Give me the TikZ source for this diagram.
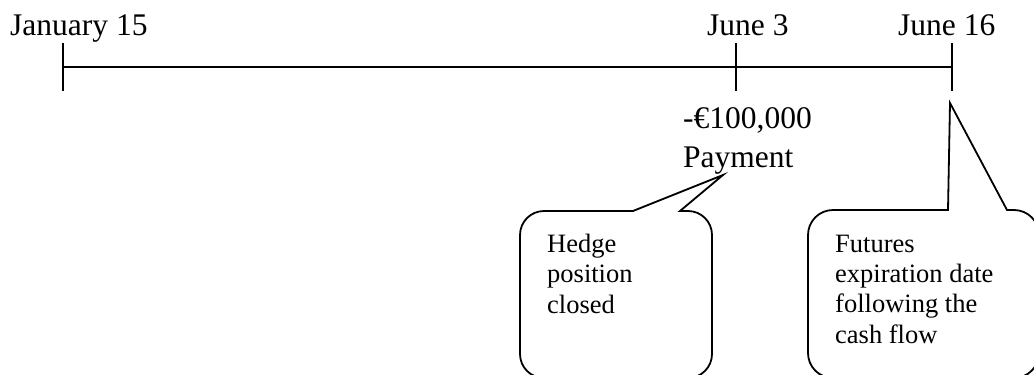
\documentclass[tikz,border=0pt]{standalone}
\usepackage{fontspec}
\setmainfont{Liberation Serif}
\begin{document}
\begin{tikzpicture}[x=1pt,y=1pt,
  axis/.style={line width=1.8pt},
  balloon/.style={line width=1.8pt, line join=miter},
  datelabel/.style={anchor=base west, inner sep=0pt, font=\fontsize{31.5}{36}\selectfont},
  notetext/.style={anchor=base west, inner sep=0pt, align=left, font=\fontsize{26.5}{30.3}\selectfont}]
\useasboundingbox (0,0) rectangle (1034,-375);
\clip (0,0) rectangle (1034,-375);

% time line and its ticks
\coordinate (jan) at (63,-67);
\coordinate (jun3) at (736,-67);
\coordinate (jun16) at (952,-67);
\draw[axis] (jan) -- (jun16);
\foreach \t in {jan,jun3,jun16}
  \draw[axis] ([yshift=24pt]\t) -- ([yshift=-24pt]\t);

% dates
\node[datelabel] (ljan) at (10,-35) {January 15};
\node[datelabel] (ljun3) at (707,-35) {June 3};
\node[datelabel] (ljun16) at (898,-35) {June 16};

% cash flow on June 3 (multi-line nodes sit on the baseline of their last line)
\node[datelabel, align=left, font=\fontsize{31.5}{39}\selectfont] (pay) at (683,-167) {-€100,000\\Payment};

% balloon: hedge closed
\coordinate (tipA) at (723,-175);
\draw[balloon] (633,-211) -- (tipA) -- (680,-211) -- (688,-211)
  arc[start angle=90, end angle=0, radius=24] -- (712,-354)
  arc[start angle=0, end angle=-90, radius=24] -- (544,-378)
  arc[start angle=270, end angle=180, radius=24] -- (520,-235)
  arc[start angle=180, end angle=90, radius=24] -- cycle;
\node[notetext] (hedge) at (547,-313) {Hedge\\position\\closed};

% balloon: futures expiration
\coordinate (tipB) at (950,-103);
\draw[balloon] (948,-210) -- (tipB) -- (1007,-210) -- (1014,-210)
  arc[start angle=90, end angle=0, radius=25] -- (1039,-353)
  arc[start angle=0, end angle=-90, radius=25] -- (833,-378)
  arc[start angle=270, end angle=180, radius=25] -- (808,-235)
  arc[start angle=180, end angle=90, radius=25] -- cycle;
\node[notetext] (futures) at (835,-343) {Futures\\expiration date\\following the\\cash flow};
\end{tikzpicture}
\end{document}
